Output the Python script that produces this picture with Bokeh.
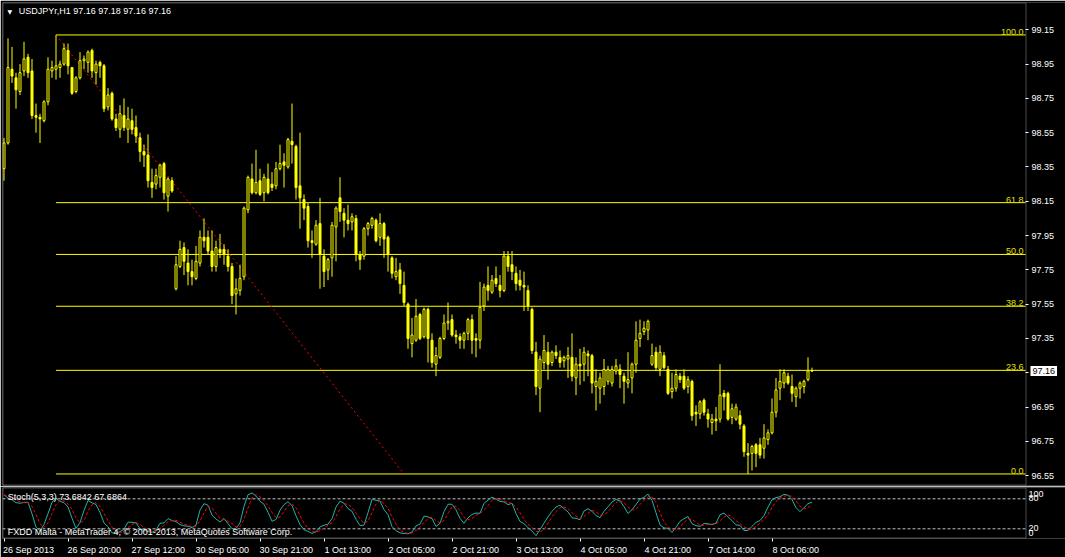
import numpy as np
import pandas as pd
from bokeh.plotting import figure
from bokeh.layouts import column
from bokeh.models import (ColumnDataSource, Range1d, LinearAxis, FixedTicker,
                          Label, BoxAnnotation, NumeralTickFormatter)
from bokeh.embed import file_html
from bokeh.resources import INLINE

# ---------------- data ----------------
symbol_header = "USDJPYr,H1  97.16 97.18 97.16 97.16"
stoch_header = "Stoch(5,3,3) 73.6842 67.6864"
copyright_text = "FXDD Malta - MetaTrader 4, \u00a9 2001-2013, MetaQuotes Software Corp."

opens = [98.34, 98.49, 98.92, 98.87, 98.79, 98.91, 98.99, 98.91, 98.65, 98.64,
         98.62, 98.73, 98.91, 98.92, 98.93, 98.95, 99.03, 98.93, 98.79, 98.87,
         98.97, 98.96, 99.03, 98.90, 98.96, 98.94, 98.70, 98.78, 98.63, 98.57,
         98.65, 98.57, 98.62, 98.58, 98.52, 98.44, 98.42, 98.26, 98.25, 98.29,
         98.37, 98.18, 98.27, 97.64, 97.77, 97.88, 97.79, 97.74, 97.70, 97.79,
         97.94, 97.94, 97.86, 97.77, 97.87, 97.87, 97.83, 97.77, 97.61, 97.63,
         97.71, 98.10, 98.28, 98.20, 98.27, 98.20, 98.28, 98.25, 98.24, 98.34,
         98.38, 98.35, 98.50, 98.47, 98.24, 98.16, 98.12, 97.92, 97.90, 98.02,
         97.83, 97.75, 97.82, 98.00, 98.17, 98.08, 98.04, 98.03, 98.05, 97.84,
         97.83, 97.99, 98.01, 98.04, 97.94, 98.02, 97.94, 97.82, 97.71, 97.75,
         97.66, 97.55, 97.32, 97.34, 97.49, 97.36, 97.52, 97.34, 97.20, 97.24,
         97.35, 97.44, 97.46, 97.37, 97.36, 97.34, 97.38, 97.46, 97.35, 97.34,
         97.54, 97.66, 97.62, 97.70, 97.66, 97.63, 97.83, 97.78, 97.73, 97.69,
         97.66, 97.63, 97.52, 97.27, 97.06, 97.21, 97.27, 97.21, 97.27, 97.24,
         97.22, 97.23, 97.24, 97.12, 97.20, 97.20, 97.26, 97.25, 97.07, 97.06,
         97.07, 97.10, 97.09, 97.16, 97.17, 97.13, 97.09, 97.12, 97.20, 97.35,
         97.39, 97.40, 97.20, 97.27, 97.17, 97.25, 97.17, 97.04, 97.06, 97.13,
         97.13, 97.07, 97.10, 96.92, 96.91, 96.99, 96.91, 96.86, 96.88, 96.88,
         97.03, 97.03, 96.89, 96.88, 96.90, 96.84, 96.68, 96.68, 96.73, 96.73,
         96.71, 96.76, 96.80, 96.92, 97.06, 97.09, 97.13, 97.07, 97.01, 97.06,
         97.07, 97.11, 97.16]
highs = [98.52, 99.10, 99.05, 98.90, 98.95, 99.08, 99.01, 98.98, 98.72, 98.66,
         98.74, 98.99, 98.97, 99.12, 98.97, 99.07, 99.07, 98.93, 98.88, 99.02,
         99.00, 99.03, 99.04, 98.97, 98.97, 98.95, 98.81, 98.79, 98.66, 98.71,
         98.75, 98.70, 98.69, 98.65, 98.55, 98.48, 98.54, 98.34, 98.34, 98.37,
         98.38, 98.29, 98.29, 97.83, 97.92, 97.91, 97.87, 97.81, 97.89, 97.98,
         98.05, 97.98, 97.98, 97.92, 97.96, 97.90, 97.87, 97.79, 97.70, 97.78,
         98.12, 98.30, 98.37, 98.45, 98.34, 98.31, 98.37, 98.32, 98.38, 98.48,
         98.43, 98.52, 98.72, 98.48, 98.55, 98.19, 98.14, 97.98, 98.04, 98.17,
         97.87, 97.82, 98.03, 98.12, 98.29, 98.11, 98.13, 98.08, 98.07, 97.86,
         98.00, 98.03, 98.06, 98.05, 98.08, 98.03, 97.95, 97.83, 97.82, 97.79,
         97.74, 97.56, 97.47, 97.58, 97.50, 97.53, 97.53, 97.38, 97.30, 97.36,
         97.49, 97.56, 97.49, 97.40, 97.38, 97.39, 97.47, 97.49, 97.38, 97.68,
         97.67, 97.77, 97.72, 97.77, 97.72, 97.86, 97.86, 97.86, 97.77, 97.75,
         97.74, 97.66, 97.53, 97.33, 97.25, 97.37, 97.33, 97.28, 97.31, 97.28,
         97.25, 97.30, 97.38, 97.24, 97.29, 97.30, 97.28, 97.26, 97.17, 97.15,
         97.23, 97.19, 97.19, 97.23, 97.20, 97.15, 97.27, 97.21, 97.45, 97.46,
         97.45, 97.46, 97.32, 97.30, 97.31, 97.27, 97.19, 97.15, 97.17, 97.15,
         97.17, 97.13, 97.11, 96.96, 96.99, 97.00, 96.94, 96.91, 96.95, 97.20,
         97.05, 97.04, 96.97, 96.97, 96.93, 96.85, 96.74, 96.73, 96.74, 96.77,
         96.85, 96.82, 97.00, 97.12, 97.17, 97.17, 97.15, 97.14, 97.07, 97.10,
         97.11, 97.24, 97.18]
lows = [98.27, 98.48, 98.84, 98.69, 98.77, 98.88, 98.87, 98.63, 98.55, 98.49,
        98.61, 98.71, 98.87, 98.86, 98.87, 98.94, 98.89, 98.77, 98.78, 98.86,
        98.92, 98.90, 98.87, 98.83, 98.87, 98.67, 98.68, 98.62, 98.56, 98.52,
        98.56, 98.49, 98.54, 98.49, 98.38, 98.35, 98.23, 98.17, 98.22, 98.23,
        98.16, 98.09, 98.20, 97.63, 97.76, 97.72, 97.66, 97.66, 97.69, 97.77,
        97.88, 97.84, 97.74, 97.74, 97.82, 97.78, 97.74, 97.55, 97.49, 97.60,
        97.69, 98.08, 98.19, 98.19, 98.18, 98.15, 98.19, 98.21, 98.22, 98.33,
        98.23, 98.34, 98.37, 98.16, 97.99, 98.04, 97.88, 97.82, 97.89, 97.64,
        97.65, 97.69, 97.71, 97.80, 98.03, 97.94, 97.98, 97.98, 97.80, 97.75,
        97.81, 97.95, 97.99, 97.91, 97.89, 97.82, 97.74, 97.70, 97.69, 97.61,
        97.54, 97.29, 97.24, 97.33, 97.34, 97.35, 97.21, 97.18, 97.13, 97.23,
        97.34, 97.40, 97.36, 97.32, 97.29, 97.29, 97.34, 97.26, 97.24, 97.29,
        97.51, 97.57, 97.61, 97.65, 97.59, 97.62, 97.74, 97.69, 97.63, 97.63,
        97.51, 97.51, 97.26, 97.02, 96.92, 97.17, 97.11, 97.19, 97.23, 97.18,
        97.18, 97.12, 97.10, 97.02, 97.08, 97.10, 97.13, 97.03, 96.93, 96.97,
        97.02, 97.08, 97.07, 97.14, 97.06, 96.97, 97.06, 97.03, 97.15, 97.30,
        97.37, 97.34, 97.19, 97.16, 97.13, 97.17, 97.02, 97.00, 97.04, 97.09,
        97.05, 97.03, 96.87, 96.84, 96.88, 96.90, 96.83, 96.79, 96.81, 96.86,
        96.93, 96.87, 96.85, 96.87, 96.82, 96.66, 96.56, 96.58, 96.60, 96.65,
        96.65, 96.73, 96.79, 96.89, 96.99, 97.06, 97.08, 96.98, 96.95, 97.00,
        97.03, 97.10, 97.16]
closes = [98.49, 98.93, 98.88, 98.80, 98.90, 98.98, 98.90, 98.65, 98.64, 98.63,
          98.73, 98.92, 98.93, 98.94, 98.95, 99.04, 98.94, 98.78, 98.87, 98.97,
          98.98, 99.02, 98.91, 98.95, 98.94, 98.69, 98.77, 98.63, 98.58, 98.66,
          98.58, 98.63, 98.57, 98.53, 98.44, 98.42, 98.27, 98.23, 98.30, 98.36,
          98.20, 98.28, 98.21, 97.78, 97.87, 97.80, 97.74, 97.71, 97.80, 97.94,
          97.92, 97.86, 97.77, 97.88, 97.85, 97.84, 97.77, 97.60, 97.64, 97.70,
          98.11, 98.29, 98.20, 98.26, 98.19, 98.29, 98.20, 98.23, 98.34, 98.37,
          98.36, 98.51, 98.48, 98.23, 98.17, 98.11, 97.92, 97.91, 98.01, 97.84,
          97.74, 97.81, 98.01, 98.11, 98.09, 98.04, 98.02, 98.06, 97.84, 97.81,
          97.99, 98.02, 98.05, 97.92, 98.02, 97.93, 97.84, 97.73, 97.74, 97.67,
          97.56, 97.35, 97.37, 97.48, 97.35, 97.52, 97.35, 97.21, 97.25, 97.35,
          97.44, 97.45, 97.37, 97.36, 97.34, 97.38, 97.46, 97.34, 97.34, 97.53,
          97.65, 97.63, 97.69, 97.67, 97.63, 97.83, 97.77, 97.74, 97.67, 97.66,
          97.65, 97.54, 97.28, 97.07, 97.23, 97.28, 97.20, 97.27, 97.25, 97.21,
          97.24, 97.25, 97.13, 97.20, 97.19, 97.27, 97.25, 97.09, 97.10, 97.12,
          97.17, 97.17, 97.17, 97.19, 97.14, 97.10, 97.11, 97.20, 97.34, 97.38,
          97.41, 97.45, 97.25, 97.18, 97.27, 97.18, 97.03, 97.06, 97.14, 97.11,
          97.06, 97.11, 96.90, 96.91, 96.98, 96.92, 96.88, 96.88, 96.87, 97.02,
          97.01, 96.88, 96.94, 96.95, 96.85, 96.69, 96.67, 96.72, 96.68, 96.67,
          96.77, 96.80, 96.92, 97.05, 97.10, 97.15, 97.09, 97.03, 97.06, 97.09,
          97.10, 97.16, 97.16]

time_tick_bars = [0, 16, 32, 48, 64, 80, 96, 112, 128, 144, 160, 176, 192]
time_tick_labels = ["26 Sep 2013", "26 Sep 20:00", "27 Sep 12:00", "30 Sep 05:00",
                    "30 Sep 21:00", "1 Oct 13:00", "2 Oct 05:00", "2 Oct 21:00",
                    "3 Oct 13:00", "4 Oct 05:00", "4 Oct 21:00", "7 Oct 14:00",
                    "8 Oct 06:00"]
price_ticks = [99.15, 98.95, 98.75, 98.55, 98.35, 98.15, 97.95, 97.75, 97.55,
               97.35, 97.15, 96.95, 96.75, 96.55]
last_price = 97.16
fib_levels = [100.0, 61.8, 50.0, 38.2, 23.6, 0.0]
fib_labels = ["100.0", "61.8", "50.0", "38.2", "23.6", "0.0"]
fib_high = 99.12
fib_low = 96.56
fib_bar_from = 13
fib_bar_to = 100
stoch_k_period, stoch_slowing, stoch_d_period = 5, 3, 3
stoch_levels = [20, 80]
stoch_scale_values = [100, 80, 20, 0]

# ---------------- styling / layout ----------------
FONT = "Liberation Sans"
FS = "9px"
FS_PX = 9.0
YEL = "#ffff00"
W = 1065
AX_X = 255.375          # x (in bar units) where the price scale sits
X0, X1 = -0.375, 265.375
PX_PER_BAR = 4.0
FRAME_LEFT = 2

# Arial-metric widths (per 1000 em) used to left-align the time labels
_CW = {ch: 556 for ch in "0123456789"}
_CW.update({" ": 278, ":": 278, "S": 667, "e": 556, "p": 556, "O": 778, "c": 500, "t": 278})
SPACE_PX = 278 * FS_PX / 1000.0


def left_pad(t, bar):
    units = sum(_CW.get(ch, 556) for ch in t)
    text_px = units * FS_PX / 1000.0
    tick_px = FRAME_LEFT + (bar - X0) * PX_PER_BAR
    if tick_px - text_px < 0:       # label would be pushed inside the canvas
        n_sp = int(round(tick_px / SPACE_PX))
    else:
        n_sp = int(round(text_px / SPACE_PX))
    return "\u00a0" * n_sp + t


n = len(opens)
idx = np.arange(n)
o = np.array(opens); c = np.array(closes); h = np.array(highs); l = np.array(lows)
top = np.maximum(o, c); bot = np.minimum(o, c)
up = c >= o

x_rng = Range1d(X0, X1)
PY0, PY1 = 96.4927, 99.3092

p = figure(width=W, height=486, x_range=x_rng, y_range=Range1d(PY0, PY1),
           output_backend="svg", toolbar_location=None,
           x_axis_type=None, y_axis_type=None,
           min_border_left=FRAME_LEFT, min_border_right=0, min_border_top=2, min_border_bottom=1,
           background_fill_color="black", border_fill_color="black",
           outline_line_color=None)

# chart frame (white) up to the price scale
px_per_unit = 171.5
p.add_layout(BoxAnnotation(left=X0 + 0.125, right=AX_X + 0.125,
                           top=PY1 - 0.5 / px_per_unit, bottom=PY0 + 0.5 / px_per_unit,
                           fill_color=None, line_color="white", line_width=1))

pax = LinearAxis(ticker=FixedTicker(ticks=price_ticks), fixed_location=AX_X,
                 formatter=NumeralTickFormatter(format="0.00"),
                 axis_line_color=None, major_tick_line_color="white",
                 major_tick_out=3, major_tick_in=0, minor_tick_line_color=None,
                 major_label_text_color="white", major_label_text_font=FONT,
                 major_label_text_font_size=FS, major_label_standoff=3)
p.add_layout(pax, "right")

# fibonacci
fib_prices = [fib_low + (fib_high - fib_low) * lv / 100.0 for lv in fib_levels]
p.segment(x0=[fib_bar_from] * len(fib_prices), y0=fib_prices,
          x1=[AX_X] * len(fib_prices), y1=fib_prices, line_color=YEL, line_width=1)
p.line(x=[fib_bar_from, fib_bar_to], y=[fib_high, fib_low], line_color="red",
       line_dash="2 3", line_width=1)
for lab, pr in zip(fib_labels, fib_prices):
    p.add_layout(Label(x=AX_X, y=pr, text=lab, text_align="right",
                       text_baseline="bottom", x_offset=-2, y_offset=0,
                       text_color="#e0e000", text_font=FONT, text_font_size=FS))

# candles
src_all = ColumnDataSource(dict(x=idx, h=h, l=l))
p.segment(x0="x", y0="h", x1="x", y1="l", source=src_all, line_color=YEL, line_width=1)
src_up = ColumnDataSource(dict(x=idx[up], top=top[up], bot=bot[up]))
src_dn = ColumnDataSource(dict(x=idx[~up], top=top[~up], bot=bot[~up]))
p.vbar(x="x", width=0.5, top="top", bottom="bot", source=src_up,
       fill_color="black", line_color=YEL, line_width=1)
p.vbar(x="x", width=0.5, top="top", bottom="bot", source=src_dn,
       fill_color=YEL, line_color=YEL, line_width=1)

# current price box on the scale
p.add_layout(Label(x=AX_X, y=last_price, text=f"{last_price:.2f}", text_align="left",
                   text_baseline="middle", x_offset=5, text_color="black",
                   background_fill_color="white", padding=2,
                   text_font=FONT, text_font_size=FS))

# header
p.add_layout(Label(x=7.3, y=474.3, x_units="screen", y_units="screen", text="\u25bc",
                   text_align="center", text_baseline="middle", text_color="white",
                   text_font="DejaVu Sans", text_font_size="6px"))
p.add_layout(Label(x=16.3, y=474.5, x_units="screen", y_units="screen", text=symbol_header,
                   text_align="left", text_baseline="middle", text_color="white",
                   text_font=FONT, text_font_size=FS))

# ---------------- stochastic ----------------
hh = pd.Series(highs).rolling(stoch_k_period, min_periods=1).max()
ll = pd.Series(lows).rolling(stoch_k_period, min_periods=1).min()
num = (pd.Series(closes) - ll).rolling(stoch_slowing, min_periods=1).sum()
den = (hh - ll).rolling(stoch_slowing, min_periods=1).sum()
k_line = (100.0 * num / den).to_numpy()
d_line = pd.Series(k_line).rolling(stoch_d_period, min_periods=1).mean().to_numpy()

SY0, SY1 = 0.6, 102.6
s = figure(width=W, height=71, x_range=x_rng, y_range=Range1d(SY0, SY1),
           output_backend="svg", toolbar_location=None,
           x_axis_type=None, y_axis_type=None,
           min_border_left=FRAME_LEFT, min_border_right=0, min_border_top=1, min_border_bottom=19,
           background_fill_color="black", border_fill_color="black",
           outline_line_color=None)

s.add_layout(BoxAnnotation(left=X0 + 0.125, right=AX_X + 0.125,
                           top=SY1 - 1.0, bottom=SY0 + 1.0,
                           fill_color=None, line_color="white", line_width=1))

tax = LinearAxis(ticker=FixedTicker(ticks=time_tick_bars),
                 major_label_overrides={b: left_pad(t, b) for b, t in zip(time_tick_bars, time_tick_labels)},
                 axis_line_color=None, major_tick_line_color="white",
                 major_tick_out=3, major_tick_in=0, minor_tick_line_color=None,
                 major_label_text_color="white", major_label_text_font=FONT,
                 major_label_text_font_size=FS, major_label_standoff=3)
s.add_layout(tax, "below")

s.segment(x0=[X0] * len(stoch_levels), y0=stoch_levels, x1=[AX_X] * len(stoch_levels),
          y1=stoch_levels, line_color="#c0c0c0", line_dash="3 2", line_width=1)
s.line(idx, k_line, line_color="#20b2aa", line_width=1)
s.line(idx, d_line, line_color="red", line_dash="3 2", line_width=1)

scale_offsets = {100: -5, 80: 1, 20: 1, 0: 6}
for v in stoch_scale_values:
    s.add_layout(Label(x=AX_X, y=v, text=str(v), text_align="left",
                       text_baseline="middle", x_offset=3, y_offset=scale_offsets[v],
                       text_color="white", text_font=FONT, text_font_size=FS))

s.add_layout(Label(x=5.3, y=42, x_units="screen", y_units="screen", text=stoch_header,
                   text_align="left", text_baseline="middle", text_color="white",
                   text_font=FONT, text_font_size=FS))
s.add_layout(Label(x=5.3, y=6.5, x_units="screen", y_units="screen", text=copyright_text,
                   text_align="left", text_baseline="middle", text_color="white",
                   text_font=FONT, text_font_size=FS))

layout = column(p, s, spacing=0)

open("out.html", "w").write(file_html(layout, INLINE))
